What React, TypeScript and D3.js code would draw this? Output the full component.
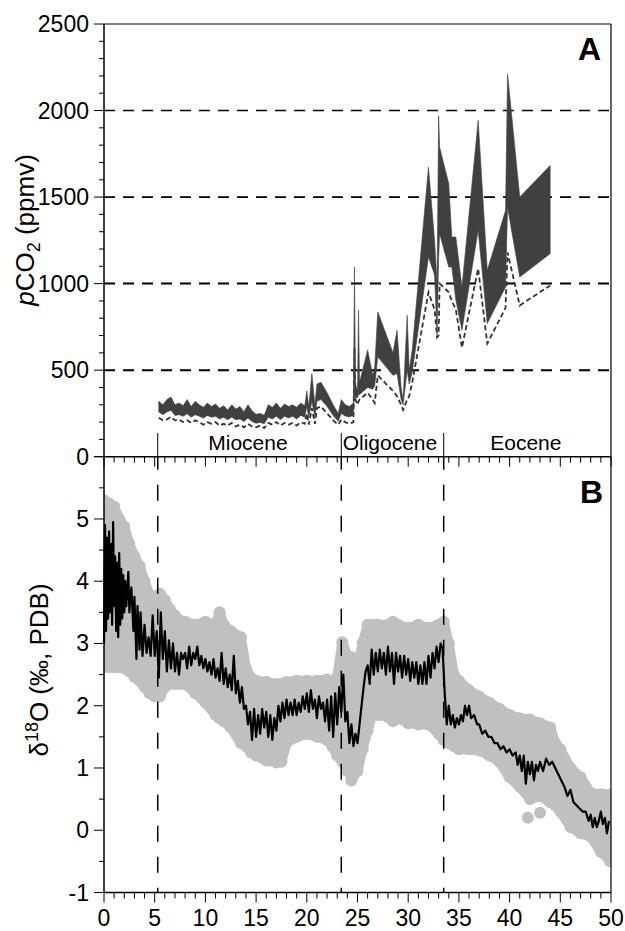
import React from "react";
import * as d3 from "d3";

// ---------- Panel A data (pCO2, ppmv) ----------
const coAge = [5.4, 5.8, 6.2, 6.6, 7.0, 7.4, 7.8, 8.2, 8.6, 9.0, 9.4, 9.8, 10.2, 10.6, 11.0, 11.4, 11.8, 12.2, 12.6, 13.0, 13.4, 13.8, 14.2, 14.6, 15.0, 15.4, 15.8, 16.2, 16.6, 17.0, 17.4, 17.8, 18.2, 18.6, 19.0, 19.4, 19.8, 20.0, 20.2, 20.5, 20.8, 21.0, 21.4, 22.0, 22.6, 23.1, 23.4, 23.8, 24.2, 24.6,
  24.7, 24.8, 25.0, 25.1, 25.2, 26.0, 26.5, 26.7, 27.0, 28.5, 28.9, 29.3, 29.5, 29.9, 30.1, 30.4, 32.0, 32.6, 32.85, 33.0, 33.1, 34.0, 34.3, 34.7, 35.3, 36.9, 37.8, 39.6, 39.8, 41.0, 44.0];
const coHigh = [320, 300, 330, 345, 300, 310, 295, 330, 290, 320, 300, 285, 310, 290, 305, 280, 295, 270, 300, 275, 290, 260, 300, 265, 245, 250, 240, 300, 285, 310, 280, 305, 290, 300, 285, 310, 295, 380, 290, 480, 300, 420, 430, 370, 300, 250, 330, 300, 290, 310,
  1096, 420, 380, 846, 430, 616, 470, 520, 837, 600, 731, 400, 330, 817, 500, 620, 1673, 1250, 1000, 1970, 1788, 1577, 1269, 1269, 980, 1943, 1077, 1423, 2212, 1500, 1683];
const coLow = [258, 243, 258, 268, 238, 243, 233, 248, 228, 243, 233, 223, 238, 228, 233, 218, 228, 213, 228, 213, 218, 203, 223, 203, 193, 198, 190, 228, 218, 233, 213, 233, 223, 233, 218, 238, 228, 290, 223, 320, 228, 320, 330, 290, 238, 205, 250, 235, 230, 240,
  360, 340, 340, 360, 360, 400, 390, 410, 577, 470, 480, 330, 300, 500, 420, 490, 1154, 1050, 700, 1150, 1288, 1096, 1096, 904, 731, 1308, 769, 981, 1440, 1038, 1173];
const coDash = [225, 210, 215, 230, 210, 215, 200, 210, 195, 210, 200, 185, 200, 190, 200, 180, 190, 180, 195, 175, 185, 170, 190, 175, 170, 180, 165, 195, 185, 200, 180, 195, 185, 195, 180, 200, 190, 250, 185, 280, 190, 280, 290, 250, 210, 185, 215, 200, 190, 200,
  630, 330, 300, 320, 330, 370, 330, 310, 470, 380, 350, 300, 270, 330, 350, 430, 950, 850, 690, 700, 1000, 950, 900, 850, 630, 1087, 654, 860, 1180, 874, 989];

const co2Ticks = [0, 500, 1000, 1500, 2000, 2500];
const co2GridLines = [500, 1000, 1500, 2000];

// ---------- Epochs ----------
const epochBounds = [5.3, 23.4, 33.5];
const epochNames = ["Miocene", "Oligocene", "Eocene"];
const epochCenters = [14.2, 28.2, 41.6];

// ---------- Panel B data (d18O) ----------
const d18Age = [0.0, 0.1, 0.2, 0.3, 0.4, 0.5, 0.6, 0.7, 0.8, 0.9, 1.0, 1.1, 1.2, 1.3, 1.4, 1.5, 1.6, 1.7, 1.8, 1.9, 2.0, 2.1, 2.2, 2.4, 2.5, 2.7, 2.9, 3.0, 3.2, 3.3, 3.5, 3.6, 3.8, 4.0, 4.2, 4.4, 4.6, 4.8, 5.0, 5.2, 5.4, 5.6, 5.8, 6.0, 6.2, 6.4, 6.6, 6.8, 7.0, 7.2, 7.4, 7.6, 7.8, 8.0, 8.2, 8.4, 8.6, 8.8, 9.0, 9.2, 9.4, 9.6, 9.8, 10.0, 10.2, 10.4, 10.6, 10.8, 11.0, 11.2, 11.4, 11.6, 11.8, 12.0, 12.2, 12.4, 12.6, 12.8, 13.0, 13.2, 13.4, 13.6, 13.8, 14.0, 14.2, 14.4, 14.6, 14.8, 15.0, 15.2, 15.4, 15.6, 15.8, 16.0, 16.2, 16.4, 16.6, 16.8, 17.0, 17.2, 17.4, 17.6, 17.8, 18.0, 18.2, 18.4, 18.6, 18.8, 19.0, 19.2, 19.4, 19.6, 19.8, 20.0, 20.2, 20.4, 20.6, 20.8, 21.0, 21.2, 21.4, 21.6, 21.8, 22.0, 22.2, 22.4, 22.6, 22.8, 23.0, 23.2, 23.4, 23.6, 23.8, 24.0, 24.2, 24.4, 24.6, 24.8, 25.0, 25.2, 25.4, 25.6, 25.8, 26.0, 26.2, 26.4, 26.6, 26.8, 27.0, 27.2, 27.4, 27.6, 27.8, 28.0, 28.2, 28.4, 28.6, 28.8, 29.0, 29.2, 29.4, 29.6, 29.8, 30.0, 30.2, 30.4, 30.6, 30.8, 31.0, 31.2, 31.4, 31.6, 31.8, 32.0, 32.2, 32.4, 32.6, 32.8, 33.0, 33.2, 33.4, 33.6, 33.8, 34.0, 34.2, 34.4, 34.6, 34.8, 35.0, 35.2, 35.4, 35.6, 35.8, 36.0, 36.2, 36.5, 36.8, 37.0, 37.3, 37.6, 37.9, 38.2, 38.5, 38.8, 39.1, 39.4, 39.7, 40.0, 40.3, 40.6, 40.8, 41.0, 41.2, 41.4, 41.6, 41.8, 42.0, 42.2, 42.4, 42.6, 42.8, 43.0, 43.3, 43.6, 43.9, 44.2, 44.5, 44.8, 45.1, 45.4, 45.7, 46.0, 46.3, 46.6, 46.9, 47.2, 47.5, 47.8, 48.0, 48.2, 48.4, 48.6, 48.8, 49.0, 49.2, 49.4, 49.6, 49.8];
const d18Val = [3.0, 4.9, 3.2, 4.7, 3.4, 4.8, 3.5, 4.6, 3.3, 4.95, 3.6, 4.4, 3.2, 4.3, 3.1, 4.45, 3.3, 4.2, 3.4, 4.1, 3.5, 4.0, 3.6, 4.15, 3.5, 3.9, 3.2, 3.75, 2.75, 3.6, 2.9, 3.5, 2.8, 3.3, 2.85, 3.1, 2.8, 3.45, 2.8, 3.2, 2.45, 3.5, 2.75, 3.2, 2.55, 3.05, 2.6, 3.0, 2.55, 2.85, 2.5, 2.85, 2.75, 2.85, 2.6, 2.95, 2.65, 2.85, 2.75, 2.95, 2.65, 2.8, 2.6, 2.75, 2.55, 2.7, 2.5, 2.75, 2.45, 2.6, 2.4, 2.85, 2.35, 2.6, 2.3, 2.5, 2.25, 2.8, 2.2, 2.4, 2.05, 2.3, 1.95, 2.0, 1.7, 1.9, 1.45, 1.95, 1.5, 1.85, 1.55, 1.95, 1.65, 1.9, 1.5, 1.85, 1.45, 1.8, 1.6, 2.0, 1.75, 2.05, 1.8, 2.1, 1.85, 2.05, 1.85, 2.1, 1.85, 2.05, 1.9, 2.15, 1.95, 2.2, 1.9, 2.25, 1.95, 2.1, 1.8, 2.15, 1.95, 2.05, 1.75, 2.1, 1.6, 2.15, 1.5, 2.2, 1.7, 2.3, 1.9, 2.5, 1.75, 1.9, 1.4, 1.7, 1.35, 1.55, 1.4, 1.7, 2.0, 2.3, 2.55, 2.65, 2.35, 2.9, 2.5, 2.85, 2.55, 2.9, 2.6, 2.85, 2.5, 2.95, 2.55, 2.85, 2.35, 2.85, 2.55, 2.8, 2.45, 2.8, 2.5, 2.75, 2.4, 2.7, 2.45, 2.7, 2.35, 2.65, 2.35, 2.7, 2.35, 2.8, 2.45, 2.85, 2.6, 2.95, 2.7, 3.0, 2.9, 2.2, 1.7, 2.0, 1.7, 1.85, 1.65, 1.8, 1.7, 1.85, 1.75, 2.0, 1.85, 2.0, 1.8, 1.85, 1.7, 1.7, 1.55, 1.6, 1.5, 1.5, 1.4, 1.4, 1.3, 1.35, 1.25, 1.3, 1.2, 1.25, 1.05, 1.2, 0.95, 1.2, 0.75, 1.1, 0.9, 1.1, 0.8, 1.05, 0.95, 1.1, 0.95, 1.15, 1.05, 1.1, 1.0, 0.9, 0.8, 0.7, 0.55, 0.65, 0.45, 0.4, 0.35, 0.3, 0.3, 0.15, 0.25, 0.05, 0.2, 0.05, 0.15, 0.3, 0.1, 0.2, -0.05, 0.15];

const greyAge = [0, 0.5, 1, 1.5, 2, 2.5, 3, 3.5, 4, 4.5, 5, 5.5, 6, 6.5, 7, 7.5, 8, 9, 10, 11, 11.4, 11.8, 12.5, 13.5, 14, 14.5, 15, 16, 17, 17.5, 18, 19, 20, 21, 22, 22.5, 23, 23.5, 24, 24.5, 25, 25.5, 26, 26.5, 27, 28, 28.5, 29, 30, 31, 32, 33, 33.5, 34, 34.5, 35, 36, 37, 38, 39, 40, 41, 42, 43, 44, 44.5, 45, 46, 47, 48, 49, 50];
const greyHigh = [5.3, 5.25, 5.2, 5.0, 4.88, 4.6, 4.4, 4.25, 4.0, 3.78, 3.75, 3.8, 3.7, 3.55, 3.45, 3.37, 3.35, 3.3, 3.35, 3.3, 3.5, 3.3, 3.2, 3.1, 2.6, 2.45, 2.4, 2.38, 2.35, 2.35, 2.38, 2.4, 2.4, 2.4, 2.42, 2.4, 2.45, 3.02, 2.8, 2.78, 2.6, 3.0, 3.3, 3.3, 3.3, 3.3, 3.35, 3.3, 3.25, 3.3, 3.25, 3.3, 3.35, 3.0, 2.5, 2.4, 2.25, 2.15, 2.05, 1.95, 1.85, 1.8, 1.78, 1.72, 1.65, 1.4, 1.3, 1.0, 0.85, 0.6, 0.58, 0.58];
const greyLow = [2.62, 2.62, 2.62, 2.62, 2.6, 2.55, 2.46, 2.4, 2.3, 2.2, 2.15, 2.15, 2.3, 2.35, 2.35, 2.35, 2.35, 2.2, 2.05, 1.85, 1.8, 1.75, 1.65, 1.4, 1.35, 1.25, 1.2, 1.12, 1.09, 1.1, 1.4, 1.5, 1.55, 1.5, 1.45, 1.35, 1.2, 1.1, 0.95, 0.85, 0.95, 1.3, 1.6, 1.9, 1.85, 1.82, 1.75, 1.8, 1.72, 1.7, 1.7, 1.55, 1.45, 1.4, 1.35, 1.3, 1.3, 1.28, 1.2, 1.1, 0.85, 0.7, 0.5, 0.55, 0.45, 0.4, 0.3, 0.05, -0.05, -0.1, -0.35, -0.5];
const outAge = [24.4, 41.8, 43.0, 49.9];
const outVal = [0.8, 0.2, 0.28, -0.5];

const d18Ticks = [-1, 0, 1, 2, 3, 4, 5];
const ageTicks = [0, 5, 10, 15, 20, 25, 30, 35, 40, 45, 50];

const FONT = "'Liberation Sans', Arial, Helvetica, sans-serif";

export default function App() {
  const L = 104, R = 611;
  const topA = 24, botA = 456.7, botB = 892.5;
  const x = d3.scaleLinear().domain([0, 50]).range([L, R]);
  const yA = d3.scaleLinear().domain([0, 2500]).range([botA, topA]);
  const yB = d3.scaleLinear().domain([-1, 6]).range([botB, botA]);

  const idx = coAge.map((_, i) => i);
  const band = d3.area<number>().x(i => x(coAge[i])).y0(i => yA(coLow[i])).y1(i => yA(coHigh[i]))(idx) || "";
  const dash = d3.line<number>().x(i => x(coAge[i])).y(i => yA(coDash[i]))(idx) || "";

  const gi = greyAge.map((_, i) => i);
  const grey = d3.area<number>().x(i => x(greyAge[i])).y0(i => yB(greyLow[i])).y1(i => yB(greyHigh[i]))(gi) || "";
  const di = d18Age.map((_, i) => i);
  const d18 = d3.line<number>().x(i => x(d18Age[i])).y(i => yB(d18Val[i]))(di) || "";

  const minorA = d3.range(0, 2501, 100);
  const minorB = d3.range(-1, 6.01, 0.5);
  const minorX = d3.range(0, 50.01, 1);
  const GREY = "#c0c0c0";

  return (
    <svg width={625} height={931} style={{ position: "absolute", left: 0, top: 0, background: "#fff" }} fontFamily={FONT}>
      <defs>
        <clipPath id="clipB"><rect x={L} y={botA} width={R - L} height={botB - botA} /></clipPath>
      </defs>
      {/* Panel A grid */}
      {co2GridLines.map(v => (
        <line key={v} x1={L} x2={R} y1={yA(v)} y2={yA(v)} stroke="#000" strokeWidth={v <= 1000 ? 2 : 1.6} strokeDasharray="11,8" />
      ))}
      {/* Panel A band */}
      <path d={dash} fill="none" stroke="#333" strokeWidth={1.8} strokeDasharray="5,3" />
      <path d={band} fill="#404040" stroke="#404040" strokeWidth={0.6} />
      {/* Epoch markers */}
      {epochBounds.map(a => (
        <line key={"e" + a} x1={x(a)} x2={x(a)} y1={433} y2={botA} stroke="#000" strokeWidth={1} />
      ))}
      {epochNames.map((n, i) => (
        <text key={n} x={x(epochCenters[i])} y={450} textAnchor="middle" fontSize={21}>{n}</text>
      ))}
      {/* Panel B */}
      <g clipPath="url(#clipB)">
        <path d={grey} fill={GREY} stroke={GREY} strokeWidth={10} strokeLinejoin="round" />
        {greyAge.map((a, i) => (
          <g key={"g" + i}>
            <circle cx={x(a)} cy={yB(greyHigh[i])} r={6} fill={GREY} />
            <circle cx={x(a)} cy={yB(greyLow[i])} r={6} fill={GREY} />
          </g>
        ))}
        {outAge.map((a, i) => (
          <circle key={"o" + i} cx={x(a)} cy={yB(outVal[i])} r={6} fill={GREY} />
        ))}
      </g>
      {epochBounds.map(a => (
        <line key={"d" + a} x1={x(a)} x2={x(a)} y1={botA} y2={botB} stroke="#000" strokeWidth={1.5} strokeDasharray="16,15" strokeDashoffset={-28} />
      ))}
      <path d={d18} fill="none" stroke="#000" strokeWidth={2.2} strokeLinejoin="round" />

      {/* Frame */}
      <line x1={L} x2={R} y1={topA} y2={topA} stroke="#000" strokeWidth={1.2} />
      <line x1={R} x2={R} y1={topA} y2={botB} stroke="#000" strokeWidth={1.2} />
      <line x1={L} x2={L} y1={topA} y2={botB} stroke="#000" strokeWidth={1.5} />
      <line x1={L} x2={R} y1={botA} y2={botA} stroke="#000" strokeWidth={1.5} />
      <line x1={L} x2={R} y1={botB} y2={botB} stroke="#000" strokeWidth={1.5} />

      {/* Y ticks A */}
      {minorA.map(v => (
        <line key={"ma" + v} x1={L - (v % 500 === 0 ? 10 : 5)} x2={L} y1={yA(v)} y2={yA(v)} stroke="#000" strokeWidth={1} />
      ))}
      {co2Ticks.map(v => (
        <text key={"ta" + v} x={89} y={yA(v) + 8} textAnchor="end" fontSize={23}>{v}</text>
      ))}
      {/* Y ticks B */}
      {minorB.map(v => (
        <line key={"mb" + v} x1={L - (Number.isInteger(v) ? 10 : 5)} x2={L} y1={yB(v)} y2={yB(v)} stroke="#000" strokeWidth={1} />
      ))}
      {d18Ticks.map(v => (
        <text key={"tb" + v} x={89} y={yB(v) + 8} textAnchor="end" fontSize={23}>{v}</text>
      ))}
      {/* X ticks */}
      {minorX.map(v => (
        <g key={"mx" + v}>
          <line x1={x(v)} x2={x(v)} y1={botA} y2={botA + (v % 5 === 0 ? 10 : 6)} stroke="#000" strokeWidth={1} />
          <line x1={x(v)} x2={x(v)} y1={botB} y2={botB + (v % 5 === 0 ? 10 : 6)} stroke="#000" strokeWidth={1} />
        </g>
      ))}
      {ageTicks.map(v => (
        <text key={"tx" + v} x={x(v)} y={926} textAnchor="middle" fontSize={23}>{v}</text>
      ))}

      {/* Panel labels */}
      <text x={601} y={60} textAnchor="end" fontSize={32} fontWeight="bold">A</text>
      <text x={603} y={503} textAnchor="end" fontSize={32} fontWeight="bold">B</text>

      {/* Axis titles */}
      <text transform="translate(34,230) rotate(-90)" textAnchor="middle" fontSize={26}>
        <tspan fontStyle="italic">p</tspan>CO<tspan dy={6} fontSize={18}>2</tspan><tspan dy={-6}> (ppmv)</tspan>
      </text>
      <text transform="translate(48,670) rotate(-90)" textAnchor="middle" fontSize={26}>
        δ<tspan dy={-10} fontSize={18}>18</tspan><tspan dy={10}>O (‰, PDB)</tspan>
      </text>
    </svg>
  );
}
